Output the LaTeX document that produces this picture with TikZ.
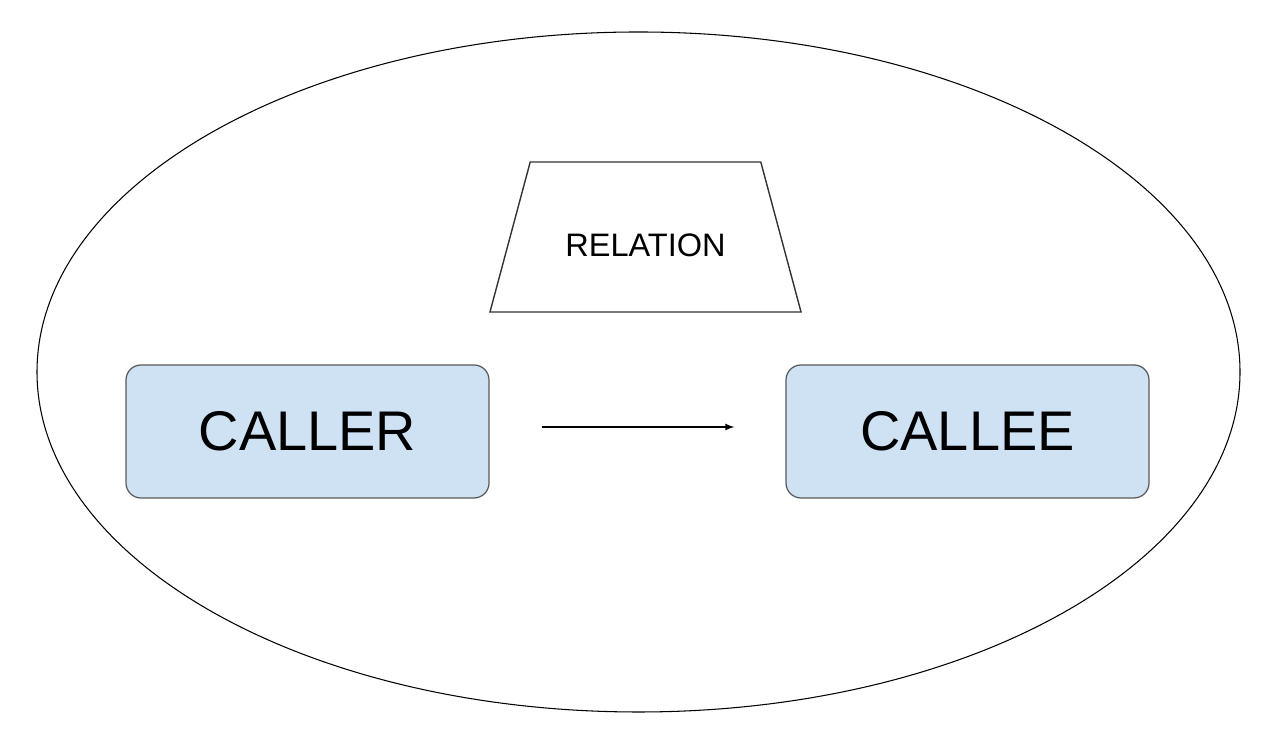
\documentclass[tikz,border=0pt]{standalone}
\usepackage{fontspec}
\setmainfont{Liberation Sans}
\usetikzlibrary{shapes.geometric,arrows,positioning}

\definecolor{boxfill}{HTML}{CFE2F3}
\definecolor{boxline}{HTML}{595959}

\begin{document}
\begin{tikzpicture}[
        boundary/.style={
            ellipse, draw=black, line width=0.6pt,
            minimum width=24.06cm, minimum height=13.6cm
        },
        relbox/.style={
            trapezium, draw=black!80, line width=0.8pt,
            trapezium angle=80.1, trapezium stretches=true,
            minimum width=6.22cm, minimum height=3cm,
            label={[font=\fontsize{18.5}{21}\selectfont, yshift=-0.16cm]center:RELATION}
        },
        party/.style={
            rectangle, rounded corners=0.3cm, draw=boxline, fill=boxfill,
            line width=0.7pt, minimum width=7.26cm, minimum height=2.66cm,
            font=\fontsize{31.8}{36}\selectfont
        },
        call/.style={-latex, line width=0.8pt, shorten <=1.04cm, shorten >=1.02cm}
      ]
  \useasboundingbox (0,0) rectangle (25.6,14.96);

  \node[boundary] (scope) at (12.77,7.52) {};
  \node[relbox] (relation) at (12.91,10.22) {};

  \node[party] (caller) at (6.15,6.33) {CALLER};
  \node[party] (callee) at (19.35,6.33) {CALLEE};

  \draw[call] ([yshift=0.09cm]caller.east) -- ([yshift=0.09cm]callee.west);
\end{tikzpicture}
\end{document}
